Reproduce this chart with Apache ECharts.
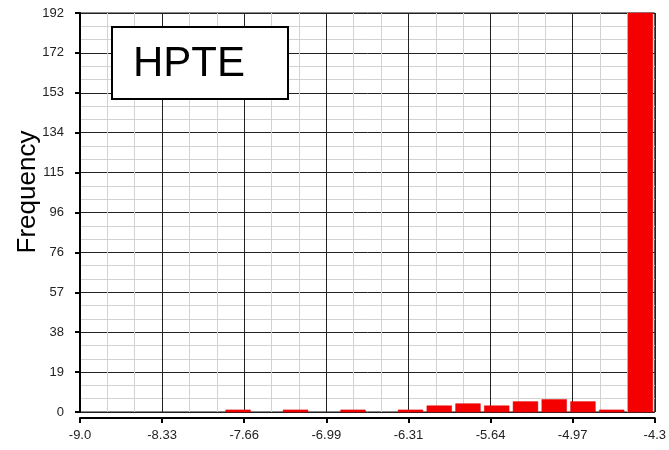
<!DOCTYPE html>
<html>
<head>
<meta charset="utf-8">
<script src="https://cdn.jsdelivr.net/npm/echarts@6/dist/echarts.min.js"></script>
<style>
  html, body { margin: 0; padding: 0; background: #fff; }
  #chart { width: 669px; height: 450px; }
</style>
</head>
<body>
<div id="chart"></div>
<script>
// Histogram bin edges (20 bins of width 0.235 between -9.0 and -4.3)
const binEdges = [-9.0, -8.765, -8.53, -8.295, -8.06, -7.825, -7.59, -7.355, -7.12, -6.885,
                  -6.65, -6.415, -6.18, -5.945, -5.71, -5.475, -5.24, -5.005, -4.77, -4.535, -4.3];
// Count in each bin
const binCounts = [0, 0, 0, 0, 0, 1, 0, 1, 0, 1, 0, 1, 3, 4, 3, 5, 6, 5, 1, 192];

// Axis ticks and their labels
const xTickValues = [-9.0, -8.3286, -7.6571, -6.9857, -6.3143, -5.6429, -4.9714, -4.3];
const xTickLabels = ['-9.0', '-8.33', '-7.66', '-6.99', '-6.31', '-5.64', '-4.97', '-4.3'];
const yTickLabels = ['0', '19', '38', '57', '76', '96', '115', '134', '153', '172', '192'];

const titleText = 'HPTE';
const yTitle = 'Frequency';

const FONT = '"Liberation Sans", Arial, sans-serif';

const histData = binCounts.map((c, i) => [binEdges[i], binEdges[i + 1], c]);

const chart = echarts.init(document.getElementById('chart'), null, { renderer: 'canvas' });

chart.setOption({
  animation: false,
  backgroundColor: '#fff',
  grid: {
    left: 80, right: 13, top: 13, bottom: 38,
    show: true, borderColor: '#111', borderWidth: 1, backgroundColor: '#fff'
  },
  xAxis: [
    {
      type: 'value',
      min: -9.0, max: -4.3,
      position: 'bottom',
      offset: 6,
      axisLine: { show: true, onZero: false, lineStyle: { color: '#000', width: 2 } },
      axisTick: { show: true, customValues: xTickValues, length: 5, lineStyle: { color: '#000', width: 2 } },
      axisLabel: {
        customValues: xTickValues,
        margin: 11,
        fontFamily: FONT, fontSize: 13, color: '#222',
        formatter: function (v) {
          let best = 0;
          xTickValues.forEach((t, i) => { if (Math.abs(t - v) < Math.abs(xTickValues[best] - v)) best = i; });
          return xTickLabels[best];
        }
      },
      splitLine: { show: false }
    },
    {
      // grid lines: 7 major divisions, each split into 3
      type: 'value',
      min: 0, max: 7, interval: 1,
      position: 'top',
      axisLine: { show: false },
      axisTick: { show: false },
      axisLabel: { show: false },
      minorTick: { show: false, splitNumber: 3 },
      splitLine: { show: true, lineStyle: { color: '#222', width: 1 } },
      minorSplitLine: { show: true, lineStyle: { color: '#d2d2d2', width: 1 } }
    }
  ],
  yAxis: {
    type: 'value',
    min: 0, max: 192, interval: 19.2,
    offset: 7,
    axisLine: { show: true, lineStyle: { color: '#000', width: 2 } },
    axisTick: { show: true, length: 5, lineStyle: { color: '#000', width: 2 } },
    axisLabel: {
      margin: 9,
      fontFamily: FONT, fontSize: 13, color: '#222',
      formatter: function (v) { return yTickLabels[Math.round(v / 19.2)]; }
    },
    minorTick: { show: false, splitNumber: 3 },
    splitLine: { show: true, lineStyle: { color: '#222', width: 1 } },
    minorSplitLine: { show: true, lineStyle: { color: '#d2d2d2', width: 1 } }
  },
  series: [{
    type: 'custom',
    xAxisIndex: 0,
    yAxisIndex: 0,
    data: histData,
    encode: { x: [0, 1], y: 2 },
    renderItem: function (params, api) {
      const count = api.value(2);
      if (!count) return null;
      const p0 = api.coord([api.value(0), count]);
      const p1 = api.coord([api.value(1), 0]);
      const inset = 2;
      return {
        type: 'rect',
        shape: { x: p0[0] + inset, y: p0[1], width: p1[0] - p0[0] - 2 * inset, height: p1[1] - p0[1] },
        style: { fill: '#f50000', stroke: '#e00000', lineWidth: 0.5 }
      };
    },
    z: 3
  }],
  graphic: [
    {
      type: 'text',
      x: 28, y: 192,
      rotation: Math.PI / 2,
      z: 100,
      style: { text: yTitle, fontFamily: FONT, fontSize: 26, fill: '#000',
               textAlign: 'center', textVerticalAlign: 'middle' }
    },
    {
      type: 'rect',
      x: 112, y: 27,
      z: 100,
      shape: { x: 0, y: 0, width: 176, height: 72 },
      style: { fill: '#fff', stroke: '#000', lineWidth: 2 }
    },
    {
      type: 'text',
      x: 133, y: 64,
      z: 101,
      style: { text: titleText, fontFamily: FONT, fontSize: 42, fill: '#000',
               textAlign: 'left', textVerticalAlign: 'middle' }
    }
  ]
});
</script>
</body>
</html>
